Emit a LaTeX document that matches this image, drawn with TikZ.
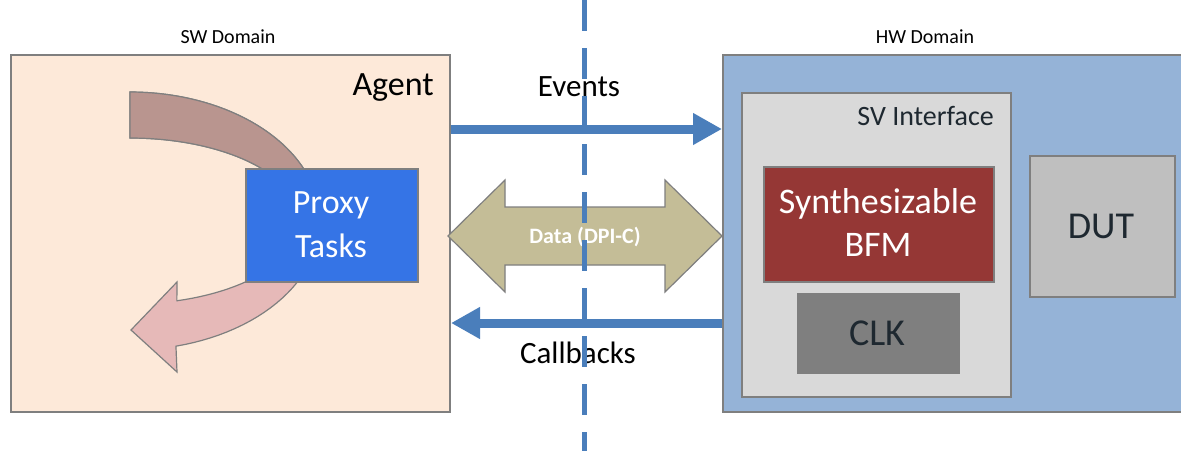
\documentclass[tikz,border=0pt]{standalone}
\usepackage{fontspec}
\setmainfont{Carlito}
\usetikzlibrary{arrows.meta}
\definecolor{peach}{HTML}{FDE9D9}
\definecolor{edgegray}{HTML}{7F7F7F}
\definecolor{proxyblue}{HTML}{3574E6}
\definecolor{flowblue}{HTML}{4A7EBB}
\definecolor{khaki}{HTML}{C4BD97}
\definecolor{hwblue}{HTML}{95B3D7}
\definecolor{svgray}{HTML}{D9D9D9}
\definecolor{bfmred}{HTML}{953735}
\definecolor{clkgray}{HTML}{7F7F7F}
\definecolor{dutgray}{HTML}{BFBFBF}
\definecolor{loopdark}{HTML}{B9958F}
\definecolor{looplight}{HTML}{E6B9B8}
\definecolor{darktext}{HTML}{1E2830}
\newcommand{\fsz}[1]{\fontsize{#1}{#1}\selectfont}
\tikzset{
  block/.style={draw=edgegray, line width=1.5pt, anchor=north west, inner sep=0pt},
  label/.style={inner sep=0pt, anchor=base},
  flow/.style={draw=flowblue, line width=9pt, -{Triangle[length=29pt,width=30pt]}},
  divider/.style={draw=flowblue, line width=5pt, dash pattern=on 31pt off 17pt},
}
\begin{document}
\begin{tikzpicture}[x=1pt,y=-1pt]
\useasboundingbox (0,0) rectangle (1181,451);
\clip (0,0) rectangle (1181,451);
\fill[white] (0,0) rectangle (1181,451);

% software side
\node[block, line width=2pt, fill=peach, minimum width=439, minimum height=357] (agent) at (10,54) {};
% looping arrow behind the proxy block
\filldraw[fill=looplight, draw=edgegray, line width=1.2pt]
  (130,92) -- plot[domain=-90:76, samples=60] ({130+190*cos(\x)},{221+129*sin(\x)})
  -- (177,372) -- (131,330) -- (177,282)
  -- plot[domain=74:-90, samples=60] ({130+170*cos(\x)},{221+83*sin(\x)}) -- cycle;
\filldraw[fill=loopdark, draw=edgegray, line width=1.2pt]
  (130,92) -- plot[domain=-90:0, samples=40] ({130+190*cos(\x)},{221+129*sin(\x)})
  -- plot[domain=0:-90, samples=40] ({130+170*cos(\x)},{221+83*sin(\x)}) -- cycle;
\node[block, fill=proxyblue, minimum width=172, minimum height=113] (proxy) at (245,168) {};

% hardware side
\node[block, fill=hwblue, minimum width=470, minimum height=357] (hw) at (722,54) {};
\node[block, fill=svgray, minimum width=269, minimum height=304] (sv) at (741,92) {};
\node[block, fill=bfmred, minimum width=230, minimum height=115] (bfm) at (763,166) {};
\node[block, draw=none, fill=clkgray, minimum width=163, minimum height=81] (clk) at (796,292) {};
\node[block, fill=dutgray, minimum width=145, minimum height=141] (dut) at (1029,155) {};

% links between the two domains
\coordinate (evy) at (0,129);
\coordinate (cby) at (0,323);
\draw[flow] (agent.east |- evy) -- (hw.west |- evy);
\draw[flow] (hw.west |- cby) -- (agent.east |- cby);
\filldraw[fill=khaki, draw=edgegray, line width=1.2pt]
  (448,236) -- (505,180) -- (505,207) -- (665,207) -- (665,180) -- (722,236)
  -- (665,292) -- (665,265) -- (505,265) -- (505,292) -- cycle;

% texts
\node[label, font=\fsz{20}] (swlabel) at (228,43) {SW Domain};
\node[label, font=\fsz{20}] (hwlabel) at (925,43) {HW Domain};
\node[label, anchor=base east, font=\fsz{34}] (agentlabel) at (434,95) {Agent};
\node[label, text=white, font=\fsz{34}] (proxy1) at (331,213) {Proxy};
\node[label, text=white, font=\fsz{34}] (proxy2) at (331,257) {Tasks};
\node[label, font=\fsz{31}] (evlabel) at (579,96) {Events};
\node[label, font=\fsz{31}] (cblabel) at (578,363) {Callbacks};
\node[label, text=white, font=\fsz{22}\bfseries] (datalabel) at (585,243) {Data (DPI-C)};
\node[label, anchor=base east, text=darktext, font=\fsz{28}] (svlabel) at (994,125) {SV Interface};
\node[label, text=white, font=\fsz{36}] (bfm1) at (878,213) {Synthesizable};
\node[label, text=white, font=\fsz{36}] (bfm2) at (878,256) {BFM};
\node[label, text=darktext, font=\fsz{38}] (clklabel) at (877,345) {CLK};
\node[label, text=darktext, font=\fsz{38}] (dutlabel) at (1101,238) {DUT};

% domain boundary
\coordinate (divtop) at (584,0);
\coordinate (divbot) at (584,451);
\draw[divider] (divtop) -- (divbot);
\end{tikzpicture}
\end{document}
